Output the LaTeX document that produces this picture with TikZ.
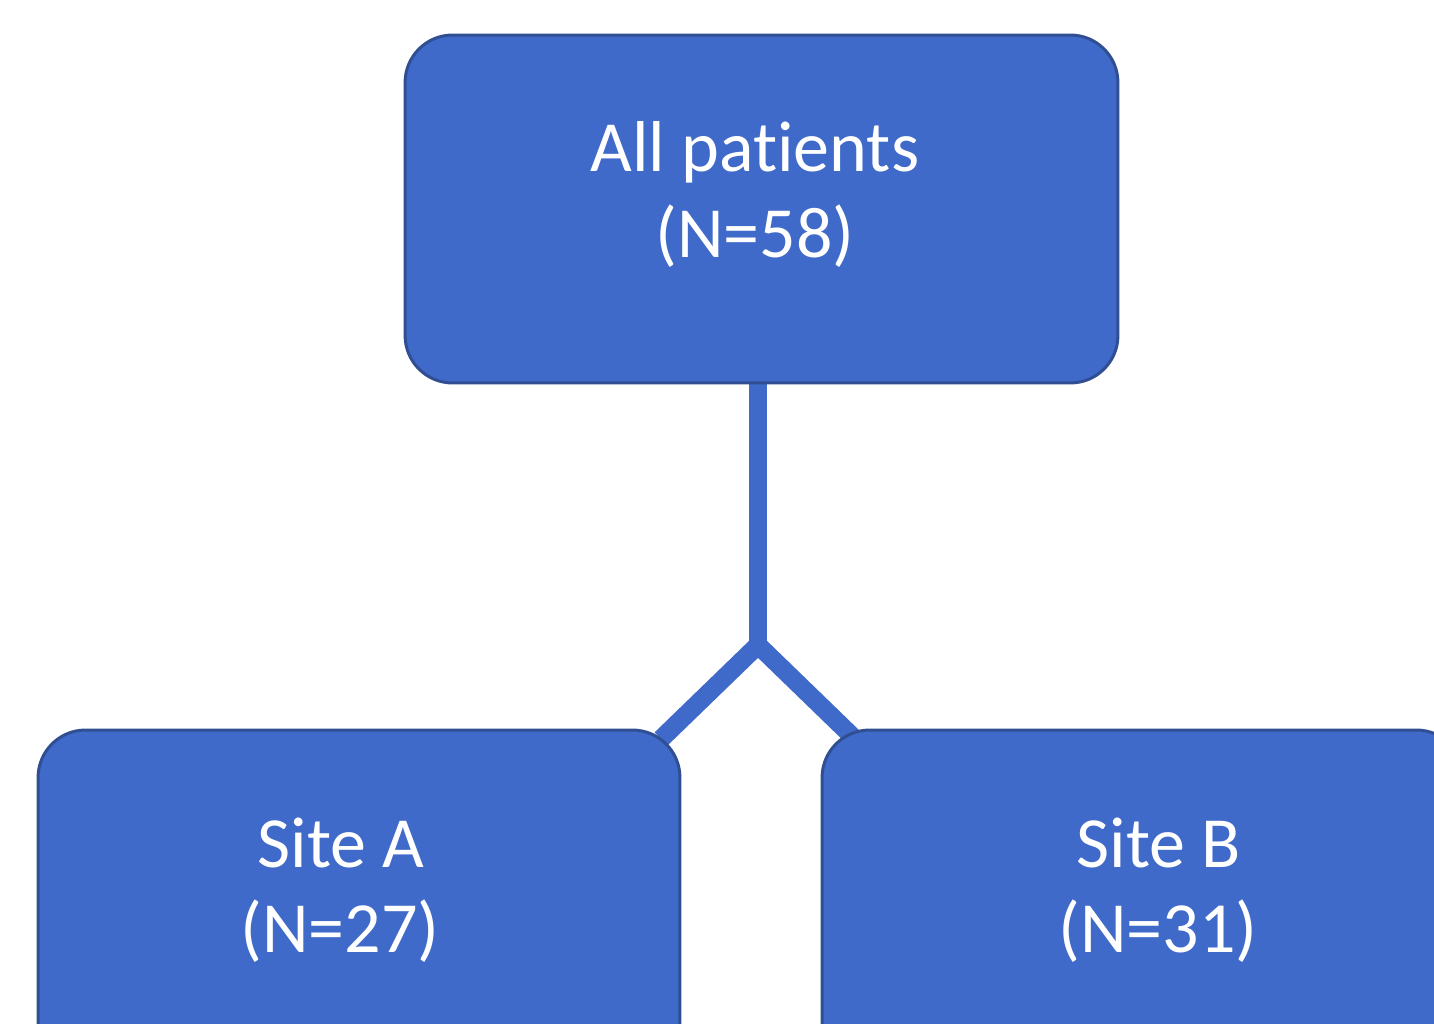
\documentclass[tikz,border=0pt]{standalone}
\usepackage{fontspec}
\setmainfont[Ligatures={NoCommon,NoDiscretionary}]{Carlito}
\usetikzlibrary{backgrounds}
\definecolor{boxfill}{RGB}{64,106,201}
\definecolor{boxline}{RGB}{47,79,146}
\tikzset{
  box/.style={draw=boxline, line width=1.7pt, fill=boxfill, rounded corners=0.95cm,
              minimum height=6.96cm, inner sep=0pt},
  txt/.style={text=white, anchor=base, inner sep=0pt, font=\fontsize{41}{48}\selectfont},
  conn/.style={draw=boxfill, line width=10.5pt, line join=miter}
}
\begin{document}
\begin{tikzpicture}[x=0.02cm, y=-0.02cm]
\useasboundingbox (0,0) rectangle (1434,1024);
\clip (0,0) rectangle (1434,1024);
\node[box, minimum width=14.26cm] (top) at (761.5,209) {};
\node[box, minimum width=12.84cm] (siteA) at (359,904) {};
\node[box, minimum width=12.84cm] (siteB) at (1143,904) {};
\coordinate (apex) at (758,645);
\coordinate (la) at (661,739);
\coordinate (ra) at (855,739);
\begin{pgfonlayer}{background}
\draw[conn] (apex |- top.south) -- (apex);
\draw[conn] (la) -- (apex) -- (ra);
\end{pgfonlayer}
\node[txt] (t1) at (755,172) {All patients};
\node[txt] (t2) at (755,257) {(N=58)};
\node[txt] (a1) at (341,867) {Site A};
\node[txt] (a2) at (340,952) {(N=27)};
\node[txt] (b1) at (1159,867) {Site B};
\node[txt] (b2) at (1158,952) {(N=31)};
\end{tikzpicture}
\end{document}
